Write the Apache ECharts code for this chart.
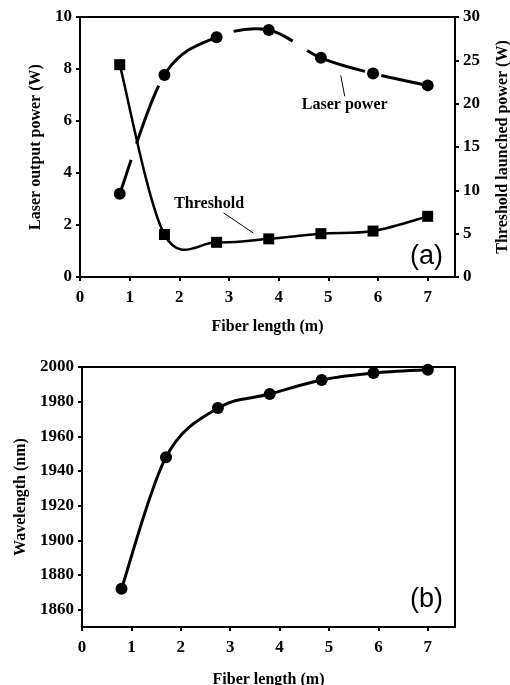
<!DOCTYPE html>
<html>
<head>
<meta charset="utf-8">
<script src="https://cdn.jsdelivr.net/npm/echarts@6/dist/echarts.min.js"></script>
<style>
  html, body { margin: 0; padding: 0; background: #fff; }
  #main { width: 510px; height: 685px; }
</style>
</head>
<body>
<div id="main"></div>
<script>
// fiber length (m) for every measured point
var fiberLength = [0.8, 1.7, 2.75, 3.8, 4.85, 5.9, 7.0];
// (a) laser output power, W (left axis)
var laserPower = [3.2, 7.77, 9.22, 9.5, 8.43, 7.83, 7.37];
// (a) threshold launched power, W (right axis)
var threshold = [24.5, 4.9, 4.0, 4.4, 5.0, 5.3, 7.0];
// (b) wavelength, nm
var wavelength = [1872, 1948, 1976.3, 1984.4, 1992.5, 1996.5, 1998.4];

var xTicks = [0, 1, 2, 3, 4, 5, 6, 7];
var wavelengthTicks = [1860, 1880, 1900, 1920, 1940, 1960, 1980, 2000];

function pairs(xs, ys) {
  return xs.map(function (x, i) { return [x, ys[i]]; });
}

// smooth curve through the points (spreadsheet style), positions from the axes
function smoothCurve(data, width, dash, dashOffset) {
  return function (params, api) {
    if (params.dataIndex !== 0) return null;
    var p = data.map(function (d) { return api.coord(d); });
    var n = p.length;
    var d = 'M' + p[0][0] + ' ' + p[0][1];
    for (var i = 0; i < n - 1; i++) {
      var p0 = p[Math.max(i - 1, 0)], p1 = p[i], p2 = p[i + 1], p3 = p[Math.min(i + 2, n - 1)];
      var c1x = p1[0] + (p2[0] - p0[0]) / 6, c1y = p1[1] + (p2[1] - p0[1]) / 6;
      var c2x = p2[0] - (p3[0] - p1[0]) / 6, c2y = p2[1] - (p3[1] - p1[1]) / 6;
      d += ' C' + c1x + ' ' + c1y + ' ' + c2x + ' ' + c2y + ' ' + p2[0] + ' ' + p2[1];
    }
    return {
      type: 'path',
      shape: { pathData: d },
      style: { fill: null, stroke: '#000', lineWidth: width, lineDash: dash || null, lineDashOffset: dashOffset || 0 }
    };
  };
}

var serif = '"Liberation Serif", "DejaVu Serif", serif';
var tickFont = { fontFamily: serif, fontWeight: 'bold', fontSize: 17, color: '#000' };
var nameFont = { fontFamily: serif, fontWeight: 'bold', fontSize: 16, color: '#000' };
var plain = function (v) { return String(v); };

function xAxisFor(gridIndex, gap) {
  return {
    gridIndex: gridIndex, type: 'value', min: 0, max: 7.55,
    name: 'Fiber length (m)', nameLocation: 'middle', nameGap: gap, nameTextStyle: nameFont,
    axisLine: { lineStyle: { color: '#000', width: 2 } },
    axisTick: { customValues: xTicks, length: 4, lineStyle: { color: '#000', width: 2 } },
    axisLabel: Object.assign({ customValues: xTicks, margin: 12, formatter: plain }, tickFont),
    splitLine: { show: false }
  };
}

function yAxisBase(extra) {
  return Object.assign({
    type: 'value', nameLocation: 'middle', nameTextStyle: nameFont,
    axisLine: { show: true, lineStyle: { color: '#000', width: 2 } },
    axisTick: { show: true, length: 4, lineStyle: { color: '#000', width: 2 } },
    axisLabel: Object.assign({ margin: 8, formatter: plain }, tickFont),
    splitLine: { show: false }
  }, extra);
}

var myChart = echarts.init(document.getElementById('main'));
var option = {
  backgroundColor: '#fff',
  animation: false,
  grid: [
    { left: 80, top: 17, width: 375, height: 260, show: true, borderColor: '#000', borderWidth: 2, outerBoundsMode: 'none' },
    { left: 82, top: 367, width: 373, height: 260, show: true, borderColor: '#000', borderWidth: 2, outerBoundsMode: 'none' }
  ],
  xAxis: [xAxisFor(0, 42), xAxisFor(1, 45)],
  yAxis: [
    yAxisBase({ gridIndex: 0, min: 0, max: 10, interval: 2, name: 'Laser output power (W)', nameGap: 28 }),
    yAxisBase({ gridIndex: 0, min: 0, max: 30, interval: 5, position: 'right', name: 'Threshold launched power (W)', nameGap: 40 }),
    yAxisBase({
      gridIndex: 1, min: 1850, max: 2000, name: 'Wavelength (nm)', nameGap: 52,
      axisTick: { show: true, customValues: wavelengthTicks, length: 4, lineStyle: { color: '#000', width: 2 } },
      axisLabel: Object.assign({ customValues: wavelengthTicks, margin: 8, formatter: plain }, tickFont)
    })
  ],
  series: [
    {
      name: 'Laser power curve', type: 'custom', coordinateSystem: 'cartesian2d', xAxisIndex: 0, yAxisIndex: 0,
      data: pairs(fiberLength, laserPower), encode: { x: 0, y: 1 },
      renderItem: smoothCurve(pairs(fiberLength, laserPower), 3, [62, 17], 26), z: 2
    },
    {
      name: 'Laser power', type: 'scatter', xAxisIndex: 0, yAxisIndex: 0,
      data: pairs(fiberLength, laserPower),
      symbol: 'circle', symbolSize: 12, itemStyle: { color: '#000', opacity: 1 }, z: 3,
      markPoint: {
        symbolSize: 0, silent: true,
        label: { show: true, position: 'inside', formatter: 'Laser power', fontFamily: serif, fontWeight: 'bold', fontSize: 16, color: '#000' },
        data: [{ coord: [5.33, 6.62] }]
      },
      markLine: {
        symbol: 'none', silent: true, label: { show: false },
        lineStyle: { color: '#000', width: 1, type: 'solid' },
        data: [[{ coord: [5.25, 7.75] }, { coord: [5.33, 6.95] }]]
      }
    },
    {
      name: 'Threshold curve', type: 'custom', coordinateSystem: 'cartesian2d', xAxisIndex: 0, yAxisIndex: 1,
      data: pairs(fiberLength, threshold), encode: { x: 0, y: 1 },
      renderItem: smoothCurve(pairs(fiberLength, threshold), 2.5), z: 2
    },
    {
      name: 'Threshold', type: 'scatter', xAxisIndex: 0, yAxisIndex: 1,
      data: pairs(fiberLength, threshold),
      symbol: 'rect', symbolSize: 11, itemStyle: { color: '#000', opacity: 1 }, z: 3,
      markPoint: {
        symbolSize: 0, silent: true,
        label: { show: true, position: 'inside', formatter: 'Threshold', fontFamily: serif, fontWeight: 'bold', fontSize: 16, color: '#000' },
        data: [{ coord: [2.6, 8.45] }]
      },
      markLine: {
        symbol: 'none', silent: true, label: { show: false },
        lineStyle: { color: '#000', width: 1, type: 'solid' },
        data: [[{ coord: [2.89, 7.4] }, { coord: [3.49, 5.07] }]]
      }
    },
    {
      name: 'Wavelength curve', type: 'custom', coordinateSystem: 'cartesian2d', xAxisIndex: 1, yAxisIndex: 2,
      data: pairs(fiberLength, wavelength), encode: { x: 0, y: 1 },
      renderItem: smoothCurve(pairs(fiberLength, wavelength), 3), z: 2
    },
    {
      name: 'Wavelength', type: 'scatter', xAxisIndex: 1, yAxisIndex: 2,
      data: pairs(fiberLength, wavelength),
      symbol: 'circle', symbolSize: 12, itemStyle: { color: '#000', opacity: 1 }, z: 3
    }
  ],
  graphic: [
    { type: 'text', right: 67, top: 243, style: { text: '(a)', fontFamily: '"Liberation Sans", Arial, sans-serif', fontSize: 27, fill: '#000' } },
    { type: 'text', right: 67, top: 586, style: { text: '(b)', fontFamily: '"Liberation Sans", Arial, sans-serif', fontSize: 27, fill: '#000' } }
  ]
};
myChart.setOption(option);
</script>
</body>
</html>
